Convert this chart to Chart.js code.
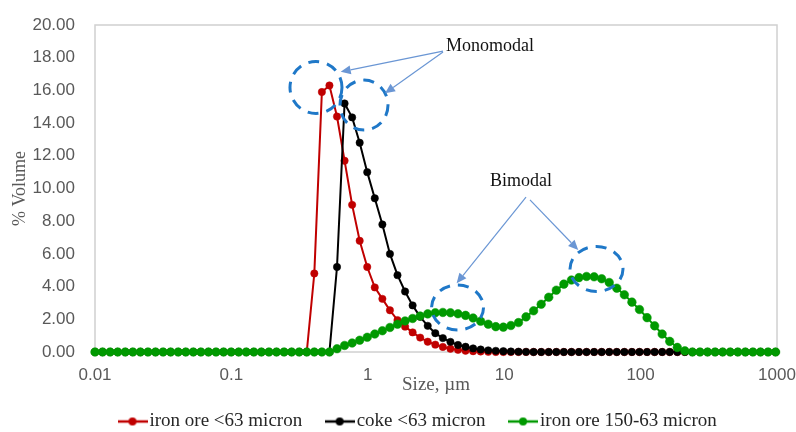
<!DOCTYPE html>
<html>
<head>
<meta charset="utf-8">
<script src="https://cdn.jsdelivr.net/npm/chart.js@4"></script>
<style>
  html, body { margin: 0; padding: 0; background: #fff; }
</style>
</head>
<body>
<canvas id="psd" width="796" height="432"></canvas>
<script>
// particle size classes (um)
const sizes = [
  0.0100, 0.01136, 0.01291, 0.01467, 0.01667, 0.01894, 0.02152, 0.02445, 0.02778, 0.03156,
  0.03585, 0.04073, 0.04628, 0.05258, 0.05974, 0.06788, 0.07712, 0.08762, 0.09955, 0.1131,
  0.1285, 0.1460, 0.1659, 0.1885, 0.2141, 0.2433, 0.2764, 0.3141, 0.3568, 0.4054,
  0.4606, 0.5233, 0.5946, 0.6756, 0.7676, 0.8720, 0.9905, 1.125, 1.279, 1.453,
  1.651, 1.876, 2.131, 2.421, 2.750, 3.125, 3.550, 4.034, 4.583, 5.207,
  5.916, 6.721, 7.637, 8.677, 9.858, 11.20, 12.73, 14.46, 16.43, 18.67,
  21.21, 24.10, 27.38, 31.11, 35.34, 40.15, 45.62, 51.83, 58.89, 66.90,
  76.01, 86.37, 98.12, 111.5, 126.7, 143.9, 163.5, 185.8, 211.1, 239.8,
  272.5, 309.6, 351.7, 399.6, 454.0, 515.9, 586.1, 665.9, 756.6, 859.6,
  976.6
];

// % volume
const ironOreFine = [
  0, 0, 0, 0, 0, 0, 0, 0, 0, 0,
  0, 0, 0, 0, 0, 0, 0, 0, 0, 0,
  0, 0, 0, 0, 0, 0, 0, 0, 0, 4.8,
  15.9, 16.3, 14.4, 11.7, 9.0, 6.8, 5.2, 3.95, 3.25, 2.55,
  1.95, 1.55, 1.2, 0.88, 0.63, 0.45, 0.31, 0.2, 0.13, 0.08,
  0.05, 0.03, 0.01, 0, 0, 0, 0, 0, 0, 0,
  0, 0, 0, 0, 0, 0, 0, 0, 0, 0,
  0, 0, 0, 0, 0, 0, 0, 0, 0, 0,
  0, 0, 0, 0, 0, 0, 0, 0, 0, 0,
  0
];
const cokeFine = [
  0, 0, 0, 0, 0, 0, 0, 0, 0, 0,
  0, 0, 0, 0, 0, 0, 0, 0, 0, 0,
  0, 0, 0, 0, 0, 0, 0, 0, 0, 0,
  0, 0, 5.2, 15.2, 14.35, 12.8, 11.0, 9.4, 7.8, 6.0,
  4.7, 3.7, 2.85, 2.15, 1.6, 1.15, 0.85, 0.62, 0.43, 0.32,
  0.22, 0.15, 0.1, 0.07, 0.05, 0.03, 0.02, 0.01, 0, 0,
  0, 0, 0, 0, 0, 0, 0, 0, 0, 0,
  0, 0, 0, 0, 0, 0, 0, 0, 0, 0,
  0, 0, 0, 0, 0, 0, 0, 0, 0, 0,
  0
];
const ironOreCoarse = [
  0, 0, 0, 0, 0, 0, 0, 0, 0, 0,
  0, 0, 0, 0, 0, 0, 0, 0, 0, 0,
  0, 0, 0, 0, 0, 0, 0, 0, 0, 0,
  0, 0, 0.2, 0.4, 0.55, 0.72, 0.9, 1.1, 1.3, 1.5,
  1.7, 1.9, 2.05, 2.2, 2.33, 2.4, 2.42, 2.4, 2.34, 2.24,
  2.08, 1.88, 1.7, 1.55, 1.52, 1.62, 1.8, 2.15, 2.52, 2.92,
  3.35, 3.78, 4.15, 4.4, 4.55, 4.62, 4.6, 4.48, 4.25, 3.9,
  3.5, 3.05, 2.6, 2.1, 1.6, 1.1, 0.65, 0.28, 0.07, 0,
  0, 0, 0, 0, 0, 0, 0, 0, 0, 0,
  0
];

const xTicks = [0.01, 0.1, 1, 10, 100, 1000];
const seriesNames = ['iron ore <63 micron', 'coke <63 micron', 'iron ore 150-63 micron'];
const seriesColors = ['#c00000', '#000000', '#009900'];

// annotation marks, in data units (size, % volume)
const rings = [
  { x: 0.417, y: 16.18, rx: 26, ry: 26 },
  { x: 0.938, y: 15.1, rx: 24, ry: 25 },
  { x: 4.55, y: 2.72, rx: 26, ry: 22.5 },
  { x: 47.5, y: 5.08, rx: 26.5, ry: 22.5 }
];
const arrows = [
  { from: [3.56, 18.4], to: [0.633, 17.14] },
  { from: [3.56, 18.35], to: [1.337, 15.82] },
  { from: [14.45, 9.48], to: [4.48, 4.2] },
  { from: [15.45, 9.3], to: [34.9, 6.24] }
];
const notes = [
  { text: 'Monomodal', x: 7.87, y: 18.72 },
  { text: 'Bimodal', x: 13.3, y: 10.46 }
];

const serif = '"Liberation Serif", "Times New Roman", serif';
const sans = '"Liberation Sans", Arial, sans-serif';

function legendMarker(color) {
  const c = document.createElement('canvas');
  c.width = 30; c.height = 10;
  const g = c.getContext('2d');
  g.strokeStyle = color; g.lineWidth = 2.5;
  g.beginPath(); g.moveTo(0, 5); g.lineTo(30, 5); g.stroke();
  g.fillStyle = color;
  g.beginPath(); g.arc(15, 5, 4, 0, Math.PI * 2); g.fill();
  return c;
}

const overlay = {
  id: 'overlay',
  beforeDatasetsDraw(chart) {
    const { ctx, chartArea: a } = chart;
    ctx.save();
    ctx.strokeStyle = '#d0d0d0';
    ctx.lineWidth = 1.5;
    ctx.strokeRect(a.left, a.top, a.right - a.left, a.bottom - a.top);
    ctx.restore();
  },
  afterDatasetsDraw(chart) {
    const { ctx } = chart;
    const sx = chart.scales.x, sy = chart.scales.y;
    ctx.save();
    // dashed rings
    ctx.strokeStyle = '#1f78c8';
    ctx.lineWidth = 3;
    ctx.setLineDash([11, 8]);
    rings.forEach(r => {
      ctx.beginPath();
      ctx.ellipse(sx.getPixelForValue(r.x), sy.getPixelForValue(r.y), r.rx, r.ry, 0, 0, Math.PI * 2);
      ctx.stroke();
    });
    ctx.setLineDash([]);
    // arrows
    ctx.strokeStyle = '#6a96d4';
    ctx.fillStyle = '#6a96d4';
    ctx.lineWidth = 1.2;
    arrows.forEach(ar => {
      const x1 = sx.getPixelForValue(ar.from[0]), y1 = sy.getPixelForValue(ar.from[1]);
      const x2 = sx.getPixelForValue(ar.to[0]), y2 = sy.getPixelForValue(ar.to[1]);
      const ang = Math.atan2(y2 - y1, x2 - x1);
      const len = 10, hw = 4.5;
      const bx = x2 - len * Math.cos(ang), by = y2 - len * Math.sin(ang);
      ctx.beginPath(); ctx.moveTo(x1, y1); ctx.lineTo(bx, by); ctx.stroke();
      ctx.beginPath();
      ctx.moveTo(x2, y2);
      ctx.lineTo(bx + hw * Math.sin(ang), by - hw * Math.cos(ang));
      ctx.lineTo(bx - hw * Math.sin(ang), by + hw * Math.cos(ang));
      ctx.closePath(); ctx.fill();
    });
    // labels
    ctx.fillStyle = '#111';
    ctx.font = '18px ' + serif;
    ctx.textAlign = 'center';
    ctx.textBaseline = 'middle';
    notes.forEach(n => ctx.fillText(n.text, sx.getPixelForValue(n.x), sy.getPixelForValue(n.y)));
    ctx.restore();
  }
};

// tick-label overflow should not push the plot box
const noScalePadding = s => { s.paddingTop = 0; s.paddingRight = 0; s.paddingLeft = 0; s.paddingBottom = 0; };

const seriesValues = [ironOreFine, cokeFine, ironOreCoarse];
const drawOrder = [3, 2, 1];

new Chart(document.getElementById('psd').getContext('2d'), {
  type: 'line',
  data: {
    datasets: seriesNames.map((name, k) => ({
      label: name,
      data: sizes.map((s, i) => ({ x: s, y: seriesValues[k][i] })),
      borderColor: seriesColors[k],
      backgroundColor: seriesColors[k],
      pointBackgroundColor: seriesColors[k],
      pointBorderColor: seriesColors[k],
      borderWidth: 2,
      pointRadius: k === 2 ? 4.3 : 3.7,
      pointBorderWidth: 0.5,
      tension: 0,
      clip: false,
      order: drawOrder[k]
    }))
  },
  options: {
    responsive: false,
    animation: false,
    layout: { padding: { top: 25, right: 19, bottom: -9, left: 0 } },
    plugins: {
      tooltip: { enabled: false },
      legend: {
        position: 'bottom',
        fullSize: false,
        align: 'start',
        labels: {
          usePointStyle: true,
          pointStyleWidth: 15,
          padding: 30,
          color: '#262626',
          font: { family: serif, size: 19 },
          generateLabels: chart => chart.data.datasets.map((ds, i) => ({
            text: ds.label,
            fillStyle: ds.borderColor,
            strokeStyle: ds.borderColor,
            fontColor: '#262626',
            lineWidth: 0,
            hidden: false,
            datasetIndex: i,
            pointStyle: legendMarker(ds.borderColor)
          }))
        }
      }
    },
    scales: {
      x: {
        type: 'logarithmic',
        min: 0.01,
        max: 1000,
        grid: { display: false, drawTicks: false },
        border: { display: false },
        afterBuildTicks: s => { s.ticks = xTicks.map(v => ({ value: v })); },
        afterFit: s => { s.height = 30; noScalePadding(s); },
        ticks: {
          autoSkip: false,
          maxRotation: 0,
          padding: 13,
          color: '#595959',
          font: { family: sans, size: 17 },
          callback: v => String(v)
        },
        title: {
          display: true,
          text: 'Size, µm',
          color: '#595959',
          padding: { top: 0, bottom: -14 },
          font: { family: serif, size: 19 }
        }
      },
      y: {
        min: 0,
        max: 20,
        grid: { display: false, drawTicks: false },
        border: { display: false },
        afterFit: s => { s.width = 95; noScalePadding(s); },
        ticks: {
          stepSize: 2,
          padding: 20,
          color: '#595959',
          font: { family: sans, size: 17 },
          callback: v => v.toFixed(2)
        },
        title: {
          display: true,
          text: '% Volume',
          color: '#595959',
          padding: { top: 9 },
          font: { family: serif, size: 18 }
        }
      }
    }
  },
  plugins: [overlay]
});
</script>
</body>
</html>
